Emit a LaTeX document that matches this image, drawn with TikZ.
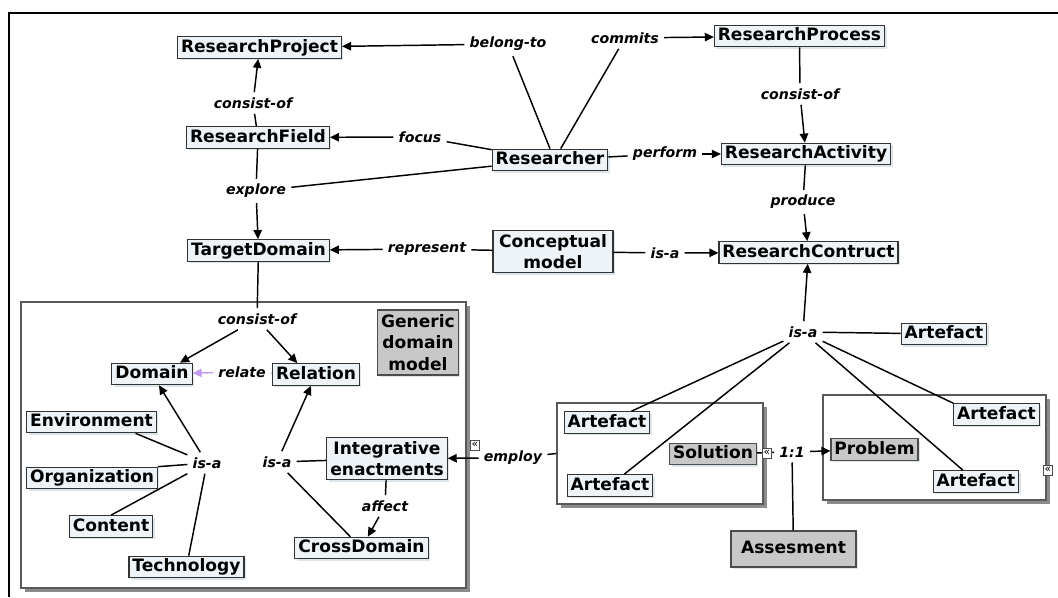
\documentclass[tikz,border=0pt]{standalone}
\usepackage{fontspec}
\setmainfont{DejaVu Sans}
\usetikzlibrary{arrows.meta,shadows}
\definecolor{cfill}{HTML}{EDF3F6}
\definecolor{cshadow}{HTML}{DCE6EA}
\definecolor{gfill}{HTML}{C8C8C8}
\definecolor{boxshadow}{HTML}{8C8C8C}
\definecolor{relc}{HTML}{C39CF2}

\tikzset{
  cbase/.style={draw=black!80, line width=0.8pt, fill=cfill,
    font=\bfseries\fontsize{12.8}{16}\selectfont, inner xsep=2.6pt, inner ysep=1.8pt,
    align=center,
    drop shadow={shadow xshift=1.5pt, shadow yshift=-1.5pt, fill=cshadow, opacity=1}},
  concept/.style={cbase, text height=9.9pt, text depth=2.7pt},
  graybox/.style={concept, fill=gfill, draw=black!70},
  lbl/.style={font=\bfseries\itshape\fontsize{10.6}{12}\selectfont, inner sep=1pt, outer sep=3pt},
  link/.style={line width=1.1pt},
  arr/.style={link, -{Triangle[length=6.8pt,width=6.3pt]}},
  relarr/.style={line width=1.1pt, draw=relc, -{Triangle[length=6.8pt,width=6.3pt]}},
  container/.style={draw=black!65, line width=0.9pt, fill=white,
    drop shadow={shadow xshift=3pt, shadow yshift=-3pt, fill=boxshadow, opacity=1}},
  hint/.style={draw=black!70, line width=0.5pt, fill=white, inner sep=0pt,
    minimum width=7pt, minimum height=7.5pt, font=\fontsize{8}{8}\selectfont}
}

\begin{document}
\begin{tikzpicture}[x=0.75pt,y=-0.75pt]
  \useasboundingbox (0,0) rectangle (1058,597);
  % outer frame (top and left edges)
  \draw[line width=1.1pt] (9,597) -- (9,13) -- (1058,13);

  % containers
  \node[container, minimum width=333.75pt, minimum height=214.5pt] (gdmbox) at (243.5,445) {};
  \node[container, minimum width=154.5pt, minimum height=75.75pt] (solbox) at (660,453.5) {};
  \node[container, minimum width=167.25pt, minimum height=78.75pt] (probbox) at (934.5,447.5) {};

  % concepts
  \node[concept] (rp) at (259.5,47.5) {ResearchProject};
  \node[concept] (rproc) at (799.5,36) {ResearchProcess};
  \node[concept] (rf) at (258,137.5) {ResearchField};
  \node[concept] (res) at (550,160) {Researcher};
  \node[concept] (ra) at (806,154) {ResearchActivity};
  \node[concept] (td) at (258.5,250.5) {TargetDomain};
  \node[cbase, minimum width=90pt, minimum height=32pt] (cm) at (553,251.5) {Conceptual\\model};
  \node[concept] (rc) at (808.5,252.5) {ResearchContruct};

  \node[concept] (dom) at (152,374) {Domain};
  \node[concept] (rel) at (316,374.5) {Relation};
  \node[cbase, fill=gfill, draw=black!70, minimum width=58.5pt, minimum height=48.75pt] (gdm) at (418,342.5) {Generic\\domain\\model};
  \node[concept] (env) at (91.5,422) {Environment};
  \node[concept] (org) at (92,478) {Organization};
  \node[concept] (cont) at (111,526.5) {Content};
  \node[concept] (tech) at (186.5,567) {Technology};
  \node[cbase, minimum width=87pt, minimum height=32pt] (ie) at (387,458.5) {Integrative\\enactments};
  \node[concept] (cd) at (361.5,548) {CrossDomain};

  \node[concept] (arta) at (607,422.5) {Artefact};
  \node[concept] (artb) at (610,485.5) {Artefact};
  \node[graybox] (sol) at (713,454) {Solution};
  \node[graybox] (prob) at (874.5,449.5) {Problem};
  \node[concept] (artc) at (996.5,414.5) {Artefact};
  \node[concept] (artd) at (976,481.5) {Artefact};
  \node[concept] (artt) at (944,334) {Artefact};
  \node[graybox, minimum width=93.75pt, minimum height=27pt] (ases) at (793.5,549) {Assesment};

  % link labels
  \node[lbl] (lbelong) at (508,44) {belong-to};
  \node[lbl] (lcommits) at (625,38) {commits};
  \node[lbl] (lconsR) at (800,94) {consist-of};
  \node[lbl] (lconsL) at (253,103) {consist-of};
  \node[lbl] (lfocus) at (420,137) {focus};
  \node[lbl] (lperform) at (665,154) {perform};
  \node[lbl] (lexplore) at (256,191) {explore};
  \node[lbl] (lproduce) at (803,202) {produce};
  \node[lbl] (lrepr) at (427,249) {represent};
  \node[lbl] (lisacm) at (665,253) {is-a};
  \node[lbl] (lconsI) at (257,319) {consist-of};
  \node[lbl] (lrelate) at (242,372) {relate};
  \node[lbl] (lisaL) at (207,463) {is-a};
  \node[lbl] (lisaR) at (277,462) {is-a};
  \node[lbl] (laffect) at (385,506) {affect};
  \node[lbl] (lemploy) at (513,458) {employ};
  \node[lbl] (lisaH) at (803,332) {is-a};
  \node[lbl] (lone) at (792,452) {1:1};

  % connectors
  \draw[link] (res.north) -- (lbelong);
  \draw[arr] (lbelong) -- (rp);
  \draw[link] ([xshift=8pt]res.north) -- (lcommits);
  \draw[arr] (lcommits) -- (rproc);
  \draw[link] (rproc) -- (lconsR);
  \draw[arr] (lconsR) -- (ra);
  \draw[link] (rf) -- (lconsL);
  \draw[arr] (lconsL) -- (rp);
  \draw[link] (res) -- (lfocus);
  \draw[arr] (lfocus) -- (rf);
  \draw[link] (res) -- (lperform);
  \draw[arr] (lperform) -- (ra);
  \draw[link] (rf) -- (lexplore);
  \draw[link] (res) -- (lexplore);
  \draw[arr] (lexplore) -- (td);
  \draw[link] (ra) -- (lproduce);
  \draw[arr] (lproduce) -- (rc);
  \draw[link] (cm) -- (lrepr);
  \draw[arr] (lrepr) -- (td);
  \draw[link] (cm) -- (lisacm);
  \draw[arr] (lisacm) -- (rc);

  \draw[link] (td) -- (lconsI);
  \draw[arr] (lconsI) -- ([xshift=21pt]dom.north);
  \draw[arr] (lconsI) -- ([xshift=-14pt]rel.north);
  \draw[line width=1.1pt, draw=relc] (rel) -- (lrelate);
  \draw[relarr] (lrelate) -- (dom);

  \draw[link] ([xshift=-16pt]env.south east) -- (lisaL);
  \draw[link] (org.north east) -- (lisaL);
  \draw[link] (cont.north) -- (lisaL);
  \draw[link] (tech) -- (lisaL);
  \draw[arr] (lisaL) -- (dom);

  \draw[link] (ie) -- (lisaR);
  \draw[link] (cd) -- (lisaR);
  \draw[arr] (lisaR) -- (rel);
  \draw[link] (ie) -- (laffect);
  \draw[arr] (laffect) -- (cd);

  \draw[link] (solbox.west) -- (lemploy);
  \draw[arr] (lemploy) -- (ie);
  \node[hint] (hemploy) at (475,445) {«};

  \draw[arr] (lisaH) -- (rc);
  \draw[link] (lisaH) -- (artt);
  \draw[link] (lisaH) -- (arta);
  \draw[link] (lisaH) -- (artb);
  \draw[link] (lisaH) -- (artd);
  \draw[link] (lisaH) -- (artc.north west);

  \draw[link] (sol) -- (lone);
  \draw[arr] (lone) -- (prob);
  \draw[link] (lone) -- (ases);
  \node[hint] (hsol) at (767,453) {«};
  \node[hint] (hprob) at (1048,470) {«};
\end{tikzpicture}
\end{document}
